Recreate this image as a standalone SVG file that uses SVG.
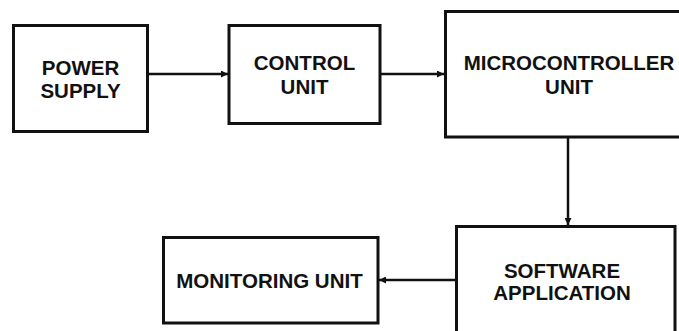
<svg xmlns="http://www.w3.org/2000/svg" width="679" height="331" viewBox="0 0 679 331">
<defs>
<style>
.box{fill:#fff;stroke:#111;stroke-width:3}
.lbl{font-family:"Liberation Sans",Arial,sans-serif;font-weight:bold;font-size:20.5px;fill:#111;text-anchor:middle}
.con{stroke:#111;stroke-width:2.5;fill:none}
</style>
<marker id="ah" viewBox="0 0 10 10" refX="10" refY="5" markerWidth="8" markerHeight="7" markerUnits="userSpaceOnUse" orient="auto">
<path d="M0,0 L10,5 L0,10 z" fill="#111"/>
</marker>
</defs>
<rect width="679" height="331" fill="#fff"/>
<g id="power-supply">
<rect class="box" x="13.5" y="25.5" width="134" height="106"/>
<text class="lbl" x="80.5" y="74.5">POWER</text>
<text class="lbl" x="80.5" y="97.5">SUPPLY</text>
</g>
<g id="control-unit">
<rect class="box" x="229" y="25.5" width="151" height="98"/>
<text class="lbl" x="304.5" y="69.5">CONTROL</text>
<text class="lbl" x="304.5" y="93.5">UNIT</text>
</g>
<g id="microcontroller-unit">
<rect class="box" x="445.5" y="11.5" width="240" height="125.5"/>
<text class="lbl" x="569" y="69.5">MICROCONTROLLER</text>
<text class="lbl" x="569" y="93.5">UNIT</text>
</g>
<g id="software-application">
<rect class="box" x="456.5" y="226.5" width="218.5" height="120"/>
<text class="lbl" x="562" y="277.5">SOFTWARE</text>
<text class="lbl" x="562" y="299.5">APPLICATION</text>
</g>
<g id="monitoring-unit">
<rect class="box" x="163.5" y="237.5" width="214.5" height="85.5"/>
<text class="lbl" x="269.5" y="287.5">MONITORING UNIT</text>
</g>
<g id="connectors">
<line class="con" x1="148" y1="74" x2="228" y2="74" marker-end="url(#ah)"/>
<line class="con" x1="380" y1="74" x2="444" y2="74" marker-end="url(#ah)"/>
<line class="con" x1="568" y1="137" x2="568" y2="225" marker-end="url(#ah)"/>
<line class="con" x1="456" y1="280" x2="379" y2="280" marker-end="url(#ah)"/>
</g>
</svg>
